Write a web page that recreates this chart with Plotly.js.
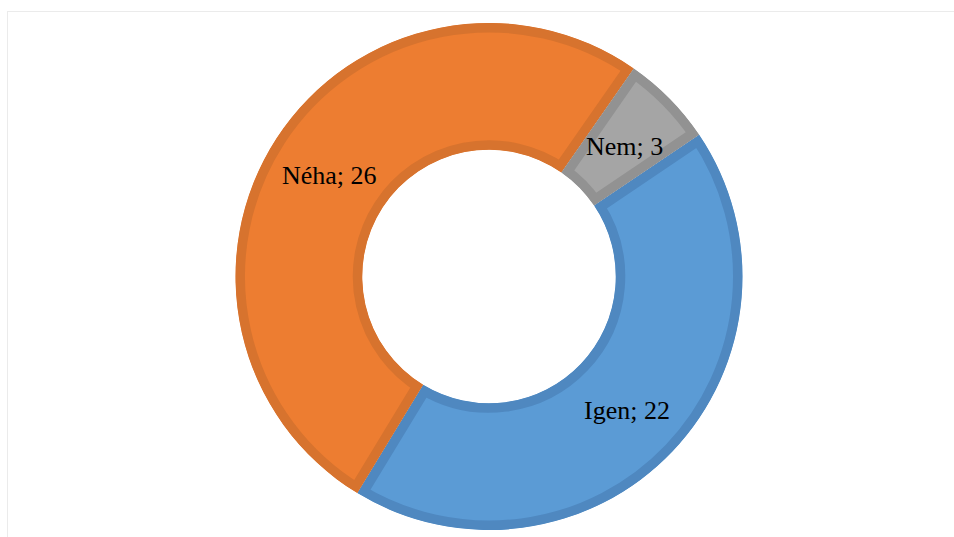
<!DOCTYPE html>
<html>
<head>
<meta charset="utf-8">
<script src="https://cdn.plot.ly/plotly-3.0.1.min.js"></script>
<style>
  html, body { margin: 0; padding: 0; background: #ffffff; overflow: hidden; }
  #frame { position: absolute; left: 7px; top: 11px; width: 1000px; height: 600px;
           border-top: 1px solid #ebebeb; border-left: 1px solid #ebebeb; }
  #chart { position: absolute; left: 0; top: 0; width: 954px; height: 537px; }
</style>
</head>
<body>
<div id="frame"></div>
<div id="chart"></div>
<script>
// ---- data ----
const categories = ['Igen', 'Néha', 'Nem'];
const values = [22, 26, 3];

// ---- styles ----
const fillColors = ['#5B9BD5', '#ED7D31', '#A5A5A5'];
const borderColors = ['#4F88C0', '#D7732E', '#929292'];

const W = 954, H = 537;
const cx = 489, cy = 276.5, R = 254, holeFrac = 0.5;
const mt = cy - R, mb = H - (cy + R);
const plotH = H - mt - mb;
const rotation = 56;

// domain so pie centre lands at cx
const halfW = R / W;
const domX = [cx / W - halfW - 0.05, cx / W + halfW + 0.05];

// label annotations computed from the data (mid angle, mid radius)
const total = values.reduce((a, b) => a + b, 0);
const rMid = R * (1 + holeFrac) / 2;
let acc = 0;
const annotations = values.map((v, i) => {
  const mid = (rotation + (acc + v / 2) / total * 360) * Math.PI / 180;
  acc += v;
  const px = cx + rMid * Math.sin(mid);
  const py = cy - rMid * Math.cos(mid);
  return {
    xref: 'paper', yref: 'paper',
    x: px / W, y: 1 - (py - mt) / plotH,
    yshift: -3,
    text: categories[i] + '; ' + values[i],
    showarrow: false, xanchor: 'center', yanchor: 'middle',
    font: { family: '"Liberation Serif", "Times New Roman", serif', size: 26, color: '#000000' }
  };
});

const trace = {
  type: 'pie',
  labels: categories,
  values: values,
  sort: false,
  direction: 'clockwise',
  rotation: rotation,
  hole: holeFrac,
  textinfo: 'none',
  hoverinfo: 'none',
  domain: { x: domX, y: [0, 1] },
  marker: { colors: fillColors, line: { color: borderColors, width: 19 } }
};

const layout = {
  width: W, height: H,
  margin: { l: 0, r: 0, t: mt, b: mb, pad: 0 },
  paper_bgcolor: 'rgba(0,0,0,0)',
  plot_bgcolor: 'rgba(0,0,0,0)',
  showlegend: false,
  annotations: annotations
};

Plotly.newPlot('chart', [trace], layout, { staticPlot: true, displayModeBar: false }).then(gd => {
  // make slice borders "inner" strokes by clipping each slice to its own outline
  try {
    const svg = gd.querySelector('svg.main-svg');
    let defs = svg.querySelector('defs');
    if (!defs) { defs = document.createElementNS('http://www.w3.org/2000/svg', 'defs'); svg.insertBefore(defs, svg.firstChild); }
    gd.querySelectorAll('.pielayer path.surface').forEach((p, i) => {
      const cp = document.createElementNS('http://www.w3.org/2000/svg', 'clipPath');
      cp.setAttribute('id', 'sliceclip' + i);
      cp.setAttribute('clipPathUnits', 'userSpaceOnUse');
      const cpp = document.createElementNS('http://www.w3.org/2000/svg', 'path');
      cpp.setAttribute('d', p.getAttribute('d'));
      cp.appendChild(cpp);
      defs.appendChild(cp);
      p.setAttribute('clip-path', 'url(#sliceclip' + i + ')');
    });
  } catch (e) {}
});
</script>
</body>
</html>
